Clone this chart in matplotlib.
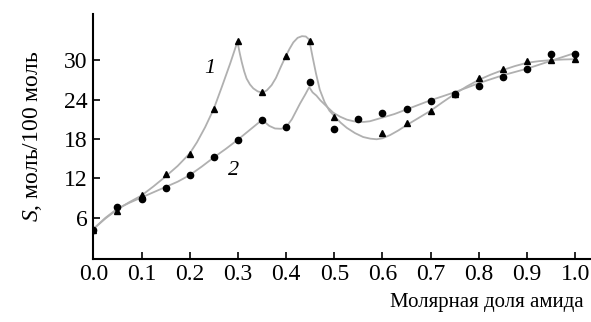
import matplotlib.pyplot as plt

plt.rcParams['font.family'] = ['Liberation Serif', 'DejaVu Serif']
plt.rcParams['mathtext.fontset'] = 'custom'
plt.rcParams['mathtext.it'] = 'Liberation Serif:italic'
plt.rcParams['mathtext.rm'] = 'Liberation Serif'

# точки (1 - треугольники, 2 - кружки)
x1 = [0.0, 0.05, 0.1, 0.15, 0.2, 0.25, 0.3, 0.35, 0.4, 0.45, 0.5, 0.6, 0.65, 0.7, 0.75, 0.8, 0.85, 0.9, 0.95, 1.0]
y1 = [4.2, 7.1, 9.4, 12.6, 15.7, 22.5, 32.9, 25.1, 30.7, 32.9, 21.3, 18.9, 20.5, 22.3, 24.9, 27.3, 28.6, 29.9, 30.0, 30.1]
x2 = [0.0, 0.05, 0.1, 0.15, 0.2, 0.25, 0.3, 0.35, 0.4, 0.45, 0.5, 0.55, 0.6, 0.65, 0.7, 0.75, 0.8, 0.85, 0.9, 0.95, 1.0]
y2 = [4.2, 7.7, 8.8, 10.6, 12.5, 15.2, 17.8, 20.9, 19.8, 26.6, 19.5, 21.0, 21.9, 22.6, 23.8, 24.8, 26.0, 27.5, 28.7, 30.9, 31.0]

# сглаживающие кривые
cx1 = [0.0, 0.025, 0.05, 0.075, 0.1, 0.125, 0.15, 0.175, 0.2, 0.215, 0.232, 0.25, 0.267, 0.284, 0.299,
       0.304, 0.308, 0.313, 0.318, 0.325, 0.332, 0.341, 0.351, 0.36, 0.37, 0.379, 0.388, 0.398, 0.407,
       0.415, 0.424, 0.433, 0.441, 0.447, 0.451, 0.455, 0.462, 0.47, 0.48, 0.49, 0.5, 0.513, 0.526, 0.543,
       0.56, 0.575, 0.588, 0.6, 0.616, 0.633, 0.65, 0.675, 0.7, 0.725, 0.751, 0.775, 0.8, 0.825, 0.85,
       0.875, 0.9, 0.925, 0.95, 0.975, 1.0]
cy1 = [4.3, 5.9, 7.3, 8.4, 9.4, 10.8, 12.3, 13.9, 15.8, 17.5, 19.8, 22.6, 26.0, 29.5, 32.8,
       31.0, 29.7, 28.3, 27.2, 26.3, 25.7, 25.25, 25.05, 25.4, 26.2, 27.3, 28.8, 30.4, 31.7,
       32.7, 33.4, 33.65, 33.6, 33.2, 32.0, 30.5, 28.0, 25.5, 23.6, 22.3, 21.5, 20.5, 19.7, 18.9,
       18.3, 18.05, 17.96, 18.1, 18.6, 19.3, 20.1, 21.2, 22.3, 23.6, 24.9, 26.0, 27.0, 27.8, 28.5,
       29.1, 29.6, 29.85, 30.0, 30.1, 30.15]
cx2 = [0.0, 0.025, 0.05, 0.075, 0.1, 0.125, 0.15, 0.175, 0.2, 0.225, 0.25, 0.275, 0.3, 0.325, 0.35,
       0.357, 0.365, 0.377, 0.39, 0.4, 0.412, 0.429, 0.44, 0.448, 0.455, 0.463, 0.471, 0.485, 0.498,
       0.512, 0.526, 0.54, 0.55, 0.562, 0.574, 0.588, 0.602, 0.625, 0.65, 0.675, 0.7, 0.725, 0.751,
       0.775, 0.8, 0.825, 0.85, 0.875, 0.9, 0.925, 0.95, 0.975, 1.0]
cy2 = [4.3, 6.0, 7.4, 8.3, 9.1, 9.9, 10.7, 11.5, 12.5, 13.8, 15.2, 16.5, 17.9, 19.4, 20.9,
       20.5, 20.0, 19.6, 19.55, 19.8, 21.0, 23.4, 24.8, 25.9, 25.1, 24.6, 23.9, 22.9, 22.0,
       21.4, 20.95, 20.7, 20.6, 20.6, 20.7, 21.0, 21.3, 21.8, 22.5, 23.2, 23.9, 24.5, 25.15,
       25.8, 26.5, 27.1, 27.7, 28.2, 28.7, 29.3, 29.9, 30.5, 31.1]

xticks = [0.0, 0.1, 0.2, 0.3, 0.4, 0.5, 0.6, 0.7, 0.8, 0.9, 1.0]
yticks = [6, 12, 18, 24, 30]

fig = plt.figure(figsize=(5.91, 3.22), dpi=100)
ax = fig.add_axes([0.158, 0.197, 0.8396, 0.759])

ax.plot(cx1, cy1, color='#b0b0b0', lw=1.3)
ax.plot(cx2, cy2, color='#b0b0b0', lw=1.3)
ax.plot(x1, y1, '^', color='black', ms=4.5, ls='none')
ax.plot(x2, y2, 'o', color='black', ms=4.5, ls='none')

ax.text(0.242, 28.8, '1', fontsize=16, style='italic', ha='center', va='center')
ax.text(0.29, 13.2, '2', fontsize=16, style='italic', ha='center', va='center')

ax.set_xlim(0, 1.03)
ax.set_ylim(-0.2, 37)
ax.set_xticks(xticks)
ax.set_xticklabels(['%.1f' % t for t in xticks])
ax.set_yticks(yticks)
for s in ['top', 'right']:
    ax.spines[s].set_visible(False)
for s in ['left', 'bottom']:
    ax.spines[s].set_linewidth(1.5)
ax.tick_params(direction='in', length=5, width=1.2, labelsize=17, pad=4)

ax.set_ylabel('$S$, моль/100 моль', fontsize=17)
ax.yaxis.set_label_coords(-0.1, 0.5)
ax.set_xlabel('Молярная доля амида', fontsize=15, ha='right')
ax.xaxis.set_label_coords(0.987, -0.14)

fig.savefig('out.png')
